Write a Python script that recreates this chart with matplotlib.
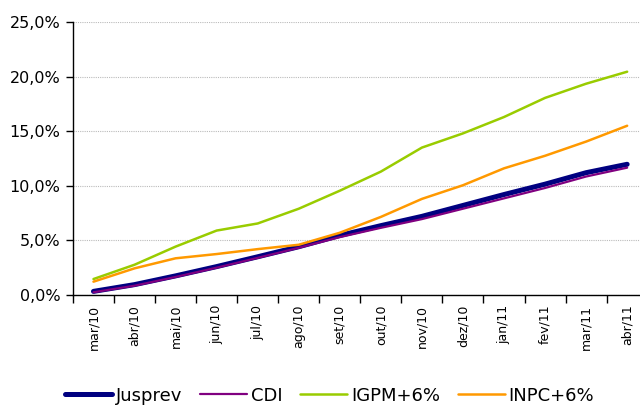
import matplotlib
matplotlib.use("Agg")
import matplotlib.pyplot as plt
from matplotlib.ticker import FuncFormatter, FixedLocator

months = ["mar/10", "abr/10", "mai/10", "jun/10", "jul/10", "ago/10", "set/10",
          "out/10", "nov/10", "dez/10", "jan/11", "fev/11", "mar/11", "abr/11"]

jusprev = [0.33, 0.95, 1.75, 2.60, 3.50, 4.42, 5.45, 6.35, 7.20, 8.20, 9.20, 10.15, 11.20, 11.97]
cdi = [0.25, 0.85, 1.65, 2.50, 3.40, 4.32, 5.30, 6.15, 6.95, 7.90, 8.85, 9.80, 10.85, 11.66]
igpm = [1.46, 2.77, 4.43, 5.90, 6.55, 7.90, 9.55, 11.30, 13.50, 14.80, 16.30, 18.05, 19.35, 20.45]
inpc = [1.22, 2.44, 3.36, 3.75, 4.20, 4.60, 5.70, 7.15, 8.80, 10.05, 11.60, 12.75, 14.05, 15.50]

series = [
    ("Jusprev", jusprev, "#000080", 3.6),
    ("CDI", cdi, "#800080", 1.6),
    ("IGPM+6%", igpm, "#99CC00", 1.8),
    ("INPC+6%", inpc, "#FF9900", 1.8),
]

fig = plt.figure(figsize=(6.4, 4.08), dpi=100)
ax = fig.add_axes([0.114, 0.277, 0.898, 0.669])

x = list(range(len(months)))
for name, vals, color, lw in series:
    ax.plot(x, vals, color=color, linewidth=lw, label=name, solid_capstyle="round")

ax.set_xlim(-0.5, len(months) - 0.5)
ax.set_ylim(0, 25)
ax.set_yticks([0, 5, 10, 15, 20, 25])
ax.yaxis.set_major_formatter(FuncFormatter(lambda v, p: f"{v:.1f}%".replace(".", ",")))
ax.grid(axis="y", linestyle=(0, (1, 1)), color="#bbbbbb", linewidth=0.8)
ax.set_axisbelow(True)

ax.set_xticks(x)
ax.set_xticklabels(months, rotation=90, fontsize=9)
ax.xaxis.set_minor_locator(FixedLocator([i - 0.5 for i in range(len(months) + 1)]))
ax.tick_params(axis="x", which="major", length=0, pad=7)
ax.tick_params(axis="x", which="minor", length=6, width=1, direction="out")
ax.tick_params(axis="y", length=5, width=1, labelsize=11.5, pad=4)

for s in ["top", "right"]:
    ax.spines[s].set_visible(False)
for s in ["left", "bottom"]:
    ax.spines[s].set_color("black")
    ax.spines[s].set_linewidth(1)

fig.legend(loc="center", bbox_to_anchor=(0.515, 0.03), ncol=4, frameon=False,
           fontsize=13, handlelength=2.6, handletextpad=0.2, columnspacing=1.0)

fig.savefig("out.png", dpi=100)
